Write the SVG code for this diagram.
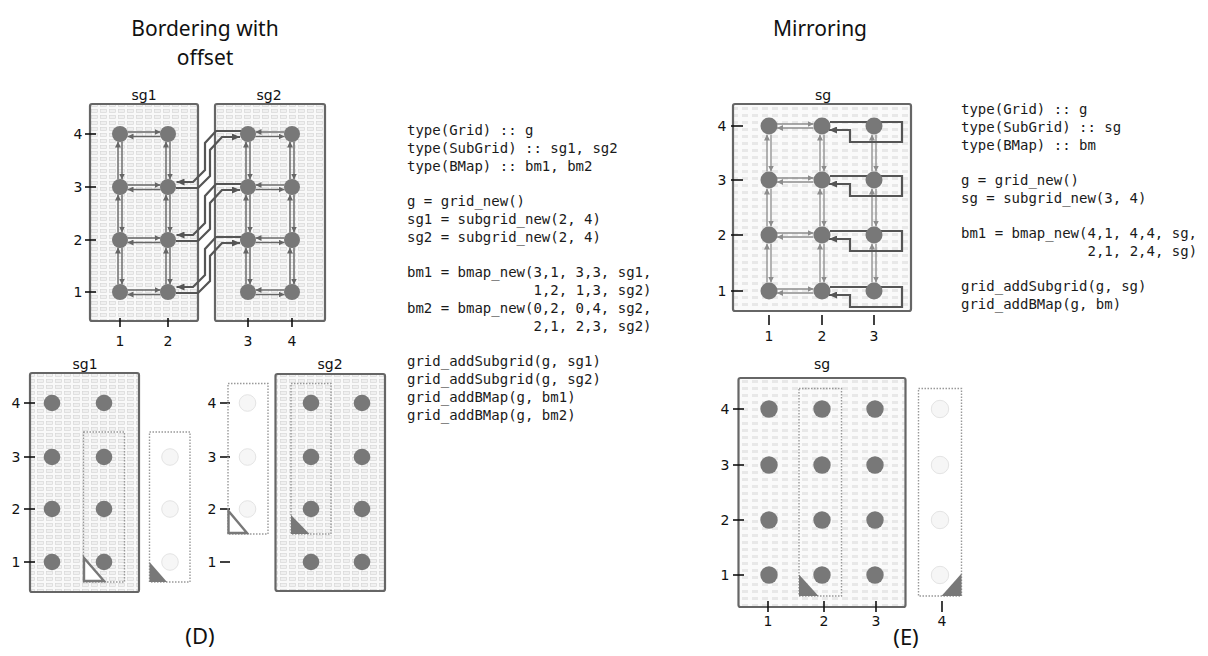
<svg xmlns="http://www.w3.org/2000/svg" width="1208" height="656" viewBox="0 0 1208 656">
<style>
.title{font-family:"Noto Sans","DejaVu Sans",sans-serif;font-size:21px;fill:#111;text-anchor:middle}
.cap{font-family:"Noto Sans","DejaVu Sans",sans-serif;font-size:22px;fill:#111;text-anchor:middle}
.lbl{font-family:"DejaVu Sans",sans-serif;font-size:14px;fill:#111;text-anchor:middle}
.code{font-family:"DejaVu Sans Mono",monospace;font-size:14px;fill:#1a1a1a}
.box{stroke:#666;stroke-width:2.2;fill:url(#pA)}
.boxB{stroke:#666;stroke-width:2.2;fill:url(#pB)}
.tick{stroke:#111;stroke-width:1.6}
.node{fill:#787878}
.ghost{fill:#f6f6f6;stroke:#e4e4e4;stroke-width:1}
.dot{fill:none;stroke:#999;stroke-width:1.4;stroke-dasharray:1.5,1.5}
.thin{fill:none;stroke:#666;stroke-width:1.4;marker-end:url(#as)}
.thinL{fill:none;stroke:#8c8c8c;stroke-width:1.3;marker-end:url(#asl)}
.thick{fill:none;stroke:#555;stroke-width:2.2;marker-end:url(#ab)}
.tri{fill:#787878}
.triO{fill:#fff;stroke:#787878;stroke-width:2.4}
</style>
<defs>
<pattern id="pA" width="9" height="6" patternUnits="userSpaceOnUse">
<rect width="9" height="6" fill="#f9f9f9"/>
<rect x="1.5" y="1.5" width="6" height="3" fill="#f0f0f0" stroke="#d4d4d4" stroke-width="0.6"/>
</pattern>
<pattern id="pB" width="10" height="7" patternUnits="userSpaceOnUse">
<rect width="10" height="7" fill="#fafafa"/>
<rect x="2" y="2" width="6" height="3" fill="#e8e8e8"/>
</pattern>
<marker id="as" markerUnits="userSpaceOnUse" markerWidth="6" markerHeight="6" refX="6" refY="3" orient="auto"><path d="M0,0 L6,3 L0,6 z" fill="#666"/></marker>
<marker id="asl" markerUnits="userSpaceOnUse" markerWidth="6" markerHeight="6" refX="6" refY="3" orient="auto"><path d="M0,0 L6,3 L0,6 z" fill="#8c8c8c"/></marker>
<marker id="ab" markerUnits="userSpaceOnUse" markerWidth="8" markerHeight="7" refX="8" refY="3.5" orient="auto"><path d="M0,0 L8,3.5 L0,7 z" fill="#555"/></marker>
</defs>
<rect width="1208" height="656" fill="#fff"/>

<g id="titles">
<text class="title" x="205" y="36">Bordering with</text>
<text class="title" x="205" y="65">offset</text>
<text class="title" x="820" y="36">Mirroring</text>
<text class="cap" x="200" y="644">(D)</text>
<text class="cap" x="906" y="645">(E)</text>
</g>

<!-- ============ Top-left: bordering with offset ============ -->
<g id="tl-sg1">
<rect class="box" x="90" y="104" width="108" height="217" rx="2"/>
<text class="lbl" x="144" y="100">sg1</text>
</g>
<g id="tl-sg2">
<rect class="box" x="215" y="104" width="110" height="217" rx="2"/>
<text class="lbl" x="269" y="100">sg2</text>
</g>
<g id="tl-axes">
<text class="lbl" x="78" y="139">4</text><line class="tick" x1="85" y1="134" x2="96" y2="134"/>
<text class="lbl" x="78" y="192">3</text><line class="tick" x1="85" y1="187" x2="96" y2="187"/>
<text class="lbl" x="78" y="245">2</text><line class="tick" x1="85" y1="240" x2="96" y2="240"/>
<text class="lbl" x="78" y="297">1</text><line class="tick" x1="85" y1="292" x2="96" y2="292"/>
<line class="tick" x1="120" y1="318" x2="120" y2="327"/><text class="lbl" x="120" y="346">1</text>
<line class="tick" x1="168" y1="318" x2="168" y2="327"/><text class="lbl" x="168" y="346">2</text>
<line class="tick" x1="248" y1="318" x2="248" y2="327"/><text class="lbl" x="248" y="346">3</text>
<line class="tick" x1="292" y1="318" x2="292" y2="327"/><text class="lbl" x="292" y="346">4</text>
</g>
<g id="tl-connectors">
<path class="thin" d="M127.5,132 H160.5"/><path class="thin" d="M160.5,136.5 H127.5"/>
<path class="thin" d="M127.5,185 H160.5"/><path class="thin" d="M160.5,189.5 H127.5"/>
<path class="thin" d="M127.5,238 H160.5"/><path class="thin" d="M160.5,242.5 H127.5"/>
<path class="thin" d="M127.5,290 H160.5"/><path class="thin" d="M160.5,294.5 H127.5"/>
<path class="thin" d="M118,179.5 V141.5"/><path class="thin" d="M122,141.5 V179.5"/>
<path class="thin" d="M118,232.5 V194.5"/><path class="thin" d="M122,194.5 V232.5"/>
<path class="thin" d="M118,284.5 V247.5"/><path class="thin" d="M122,247.5 V284.5"/>
<path class="thin" d="M166,179.5 V141.5"/><path class="thin" d="M170,141.5 V179.5"/>
<path class="thin" d="M166,232.5 V194.5"/><path class="thin" d="M170,194.5 V232.5"/>
<path class="thin" d="M166,284.5 V247.5"/><path class="thin" d="M170,247.5 V284.5"/>
<path class="thin" d="M284.5,132 H255.5"/><path class="thin" d="M255.5,136.5 H284.5"/>
<path class="thin" d="M284.5,185 H255.5"/><path class="thin" d="M255.5,189.5 H284.5"/>
<path class="thin" d="M284.5,238 H255.5"/><path class="thin" d="M255.5,242.5 H284.5"/>
<path class="thin" d="M284.5,290 H255.5"/><path class="thin" d="M255.5,294.5 H284.5"/>
<path class="thin" d="M246,179.5 V141.5"/><path class="thin" d="M250,141.5 V179.5"/>
<path class="thin" d="M246,232.5 V194.5"/><path class="thin" d="M250,194.5 V232.5"/>
<path class="thin" d="M246,284.5 V247.5"/><path class="thin" d="M250,247.5 V284.5"/>
<path class="thin" d="M290,179.5 V141.5"/><path class="thin" d="M294,141.5 V179.5"/>
<path class="thin" d="M290,232.5 V194.5"/><path class="thin" d="M294,194.5 V232.5"/>
<path class="thin" d="M290,284.5 V247.5"/><path class="thin" d="M294,247.5 V284.5"/>
<path class="thick" d="M241,131 H216 L205,143 V170 L193,182 H176.5"/>
<path class="thick" d="M176,188 H198 L210,176 V150 L222,137 H240"/>
<path class="thick" d="M241,184 H216 L205,196 V223 L193,235 H176.5"/>
<path class="thick" d="M176,241 H198 L210,229 V203 L222,190 H240"/>
<path class="thick" d="M241,237 H216 L205,249 V275 L193,287 H176.5"/>
<path class="thick" d="M176,293 H198 L210,281 V256 L222,243 H240"/>
</g>
<g id="tl-nodes">
<circle class="node" cx="120" cy="134" r="8"/><circle class="node" cx="168" cy="134" r="8"/>
<circle class="node" cx="120" cy="187" r="8"/><circle class="node" cx="168" cy="187" r="8"/>
<circle class="node" cx="120" cy="240" r="8"/><circle class="node" cx="168" cy="240" r="8"/>
<circle class="node" cx="120" cy="292" r="8"/><circle class="node" cx="168" cy="292" r="8"/>
<circle class="node" cx="248" cy="134" r="8"/><circle class="node" cx="292" cy="134" r="8"/>
<circle class="node" cx="248" cy="187" r="8"/><circle class="node" cx="292" cy="187" r="8"/>
<circle class="node" cx="248" cy="240" r="8"/><circle class="node" cx="292" cy="240" r="8"/>
<circle class="node" cx="248" cy="292" r="8"/><circle class="node" cx="292" cy="292" r="8"/>
</g>

<g id="code-left">
<text class="code" x="407" y="135">type(Grid) :: g</text>
<text class="code" x="407" y="153">type(SubGrid) :: sg1, sg2</text>
<text class="code" x="407" y="171">type(BMap) :: bm1, bm2</text>
<text class="code" x="407" y="206">g = grid_new()</text>
<text class="code" x="407" y="224">sg1 = subgrid_new(2, 4)</text>
<text class="code" x="407" y="242">sg2 = subgrid_new(2, 4)</text>
<text class="code" x="407" y="277">bm1 = bmap_new(3,1, 3,3, sg1,</text>
<text class="code" x="533.5" y="295">1,2, 1,3, sg2)</text>
<text class="code" x="407" y="313">bm2 = bmap_new(0,2, 0,4, sg2,</text>
<text class="code" x="533.5" y="331">2,1, 2,3, sg2)</text>
<text class="code" x="407" y="366">grid_addSubgrid(g, sg1)</text>
<text class="code" x="407" y="384">grid_addSubgrid(g, sg2)</text>
<text class="code" x="407" y="402">grid_addBMap(g, bm1)</text>
<text class="code" x="407" y="420">grid_addBMap(g, bm2)</text>
</g>

<!-- ============ Bottom-left ============ -->
<g id="bl-sg1">
<rect class="box" x="30" y="373" width="109" height="219" rx="2"/>
<text class="lbl" x="85" y="369">sg1</text>
<text class="lbl" x="16" y="408">4</text><line class="tick" x1="24" y1="403" x2="35" y2="403"/>
<text class="lbl" x="16" y="462">3</text><line class="tick" x1="24" y1="457" x2="35" y2="457"/>
<text class="lbl" x="16" y="514">2</text><line class="tick" x1="24" y1="509" x2="35" y2="509"/>
<text class="lbl" x="16" y="567">1</text><line class="tick" x1="24" y1="562" x2="35" y2="562"/>
<circle class="node" cx="52" cy="403" r="8.3"/><circle class="node" cx="104" cy="403" r="8.3"/>
<circle class="node" cx="52" cy="457" r="8.3"/><circle class="node" cx="104" cy="457" r="8.3"/>
<circle class="node" cx="52" cy="509" r="8.3"/><circle class="node" cx="104" cy="509" r="8.3"/>
<circle class="node" cx="52" cy="562" r="8.3"/><circle class="node" cx="104" cy="562" r="8.3"/>
<rect class="dot" x="83.5" y="432" width="41" height="150"/>
<path class="triO" d="M84,558 V581 H104 Z"/>
</g>
<g id="bl-ghost1">
<rect class="dot" x="149.5" y="432" width="40.5" height="150"/>
<circle class="ghost" cx="170" cy="457" r="8.3"/>
<circle class="ghost" cx="170" cy="509" r="8.3"/>
<circle class="ghost" cx="170" cy="562" r="8.3"/>
<path class="tri" d="M149.5,562 V582 H167 Z"/>
</g>
<g id="bl-ghost2">
<text class="lbl" x="212" y="408">4</text><line class="tick" x1="220" y1="403" x2="230" y2="403"/>
<text class="lbl" x="212" y="462">3</text><line class="tick" x1="220" y1="457" x2="230" y2="457"/>
<text class="lbl" x="212" y="514">2</text><line class="tick" x1="220" y1="509" x2="230" y2="509"/>
<text class="lbl" x="212" y="567">1</text><line class="tick" x1="220" y1="562" x2="230" y2="562"/>
<rect class="dot" x="228" y="383.5" width="40" height="150.5"/>
<circle class="ghost" cx="247.5" cy="403" r="8.3"/>
<circle class="ghost" cx="247.5" cy="457" r="8.3"/>
<circle class="ghost" cx="247.5" cy="509" r="8.3"/>
<path class="triO" d="M228.5,511 V533 H247 Z"/>
</g>
<g id="bl-sg2">
<rect class="box" x="275.5" y="374" width="109.5" height="217" rx="2"/>
<text class="lbl" x="330" y="369">sg2</text>
<circle class="node" cx="311" cy="403" r="8.3"/><circle class="node" cx="362" cy="403" r="8.3"/>
<circle class="node" cx="311" cy="457" r="8.3"/><circle class="node" cx="362" cy="457" r="8.3"/>
<circle class="node" cx="311" cy="509" r="8.3"/><circle class="node" cx="362" cy="509" r="8.3"/>
<circle class="node" cx="311" cy="562" r="8.3"/><circle class="node" cx="362" cy="562" r="8.3"/>
<rect class="dot" x="291" y="383.5" width="40" height="150.5"/>
<path class="tri" d="M291,515 V534 H309.5 Z"/>
</g>

<!-- ============ Top-right: mirroring ============ -->
<g id="tr-sg">
<rect class="boxB" x="733" y="104" width="178" height="207" rx="2"/>
<text class="lbl" x="823" y="100">sg</text>
</g>
<g id="tr-axes">
<text class="lbl" x="722" y="131">4</text><line class="tick" x1="731" y1="126" x2="743" y2="126"/>
<text class="lbl" x="722" y="185">3</text><line class="tick" x1="731" y1="180" x2="743" y2="180"/>
<text class="lbl" x="722" y="240">2</text><line class="tick" x1="731" y1="235" x2="743" y2="235"/>
<text class="lbl" x="722" y="296">1</text><line class="tick" x1="731" y1="291" x2="743" y2="291"/>
<line class="tick" x1="769" y1="315" x2="769" y2="325"/><text class="lbl" x="769" y="341">1</text>
<line class="tick" x1="822" y1="315" x2="822" y2="325"/><text class="lbl" x="822" y="341">2</text>
<line class="tick" x1="874" y1="315" x2="874" y2="325"/><text class="lbl" x="874" y="341">3</text>
</g>
<g id="tr-connectors">
<path class="thinL" d="M777,124 H813.5"/><path class="thinL" d="M813.5,128 H777"/>
<path class="thinL" d="M777,178 H813.5"/><path class="thinL" d="M813.5,182 H777"/>
<path class="thinL" d="M777,233 H813.5"/><path class="thinL" d="M813.5,237 H777"/>
<path class="thinL" d="M777,289 H813.5"/><path class="thinL" d="M813.5,293 H777"/>
<path class="thinL" d="M767,171.5 V134.5"/><path class="thinL" d="M771,134.5 V171.5"/>
<path class="thinL" d="M767,226.5 V188.5"/><path class="thinL" d="M771,188.5 V226.5"/>
<path class="thinL" d="M767,282.5 V243.5"/><path class="thinL" d="M771,243.5 V282.5"/>
<path class="thinL" d="M820,171.5 V134.5"/><path class="thinL" d="M824,134.5 V171.5"/>
<path class="thinL" d="M820,226.5 V188.5"/><path class="thinL" d="M824,188.5 V226.5"/>
<path class="thinL" d="M820,282.5 V243.5"/><path class="thinL" d="M824,243.5 V282.5"/>
<path class="thinL" d="M872,171.5 V134.5"/><path class="thinL" d="M876,134.5 V171.5"/>
<path class="thinL" d="M872,226.5 V188.5"/><path class="thinL" d="M876,188.5 V226.5"/>
<path class="thinL" d="M872,282.5 V243.5"/><path class="thinL" d="M876,243.5 V282.5"/>
<path class="thick" d="M830,122 H902 V142 H850 V130 H829"/>
<path class="thick" d="M830,176 H902 V196 H850 V184 H829"/>
<path class="thick" d="M830,231 H902 V251 H850 V239 H829"/>
<path class="thick" d="M830,287 H902 V307 H850 V295 H829"/>
</g>
<g id="tr-nodes">
<circle class="node" cx="769" cy="126" r="8.5"/><circle class="node" cx="822" cy="126" r="8.5"/><circle class="node" cx="874" cy="126" r="8.5"/>
<circle class="node" cx="769" cy="180" r="8.5"/><circle class="node" cx="822" cy="180" r="8.5"/><circle class="node" cx="874" cy="180" r="8.5"/>
<circle class="node" cx="769" cy="235" r="8.5"/><circle class="node" cx="822" cy="235" r="8.5"/><circle class="node" cx="874" cy="235" r="8.5"/>
<circle class="node" cx="769" cy="291" r="8.5"/><circle class="node" cx="822" cy="291" r="8.5"/><circle class="node" cx="874" cy="291" r="8.5"/>
</g>

<g id="code-right">
<text class="code" x="961" y="114">type(Grid) :: g</text>
<text class="code" x="961" y="132">type(SubGrid) :: sg</text>
<text class="code" x="961" y="150">type(BMap) :: bm</text>
<text class="code" x="961" y="185">g = grid_new()</text>
<text class="code" x="961" y="203">sg = subgrid_new(3, 4)</text>
<text class="code" x="961" y="238">bm1 = bmap_new(4,1, 4,4, sg,</text>
<text class="code" x="1087.5" y="256">2,1, 2,4, sg)</text>
<text class="code" x="961" y="291">grid_addSubgrid(g, sg)</text>
<text class="code" x="961" y="309">grid_addBMap(g, bm)</text>
</g>

<!-- ============ Bottom-right ============ -->
<g id="br-sg">
<rect class="boxB" x="738.5" y="378" width="167" height="229" rx="2"/>
<text class="lbl" x="822" y="369">sg</text>
<text class="lbl" x="725" y="414">4</text><line class="tick" x1="733" y1="409" x2="744" y2="409"/>
<text class="lbl" x="725" y="470">3</text><line class="tick" x1="733" y1="465" x2="744" y2="465"/>
<text class="lbl" x="725" y="525">2</text><line class="tick" x1="733" y1="520" x2="744" y2="520"/>
<text class="lbl" x="725" y="580">1</text><line class="tick" x1="733" y1="575" x2="744" y2="575"/>
<line class="tick" x1="768" y1="601" x2="768" y2="612"/><text class="lbl" x="768" y="626">1</text>
<line class="tick" x1="824" y1="601" x2="824" y2="612"/><text class="lbl" x="824" y="626">2</text>
<line class="tick" x1="876" y1="601" x2="876" y2="612"/><text class="lbl" x="876" y="626">3</text>
<circle class="node" cx="769" cy="409" r="8.7"/><circle class="node" cx="822" cy="409" r="8.7"/><circle class="node" cx="875" cy="409" r="8.7"/>
<circle class="node" cx="769" cy="465" r="8.7"/><circle class="node" cx="822" cy="465" r="8.7"/><circle class="node" cx="875" cy="465" r="8.7"/>
<circle class="node" cx="769" cy="520" r="8.7"/><circle class="node" cx="822" cy="520" r="8.7"/><circle class="node" cx="875" cy="520" r="8.7"/>
<circle class="node" cx="769" cy="575" r="8.7"/><circle class="node" cx="822" cy="575" r="8.7"/><circle class="node" cx="875" cy="575" r="8.7"/>
<rect class="dot" x="799" y="388.5" width="42.5" height="207.5"/>
<path class="tri" d="M799,574.5 V596 H818.5 Z"/>
</g>
<g id="br-ghost">
<rect class="dot" x="918.5" y="388.5" width="43" height="207.5"/>
<circle class="ghost" cx="940" cy="409" r="8.7"/>
<circle class="ghost" cx="940" cy="465" r="8.7"/>
<circle class="ghost" cx="940" cy="520" r="8.7"/>
<circle class="ghost" cx="940" cy="575" r="8.7"/>
<path class="tri" d="M961.5,573.5 V596 H941.5 Z"/>
<line class="tick" x1="942" y1="601" x2="942" y2="612"/><text class="lbl" x="942" y="626">4</text>
</g>
</svg>
